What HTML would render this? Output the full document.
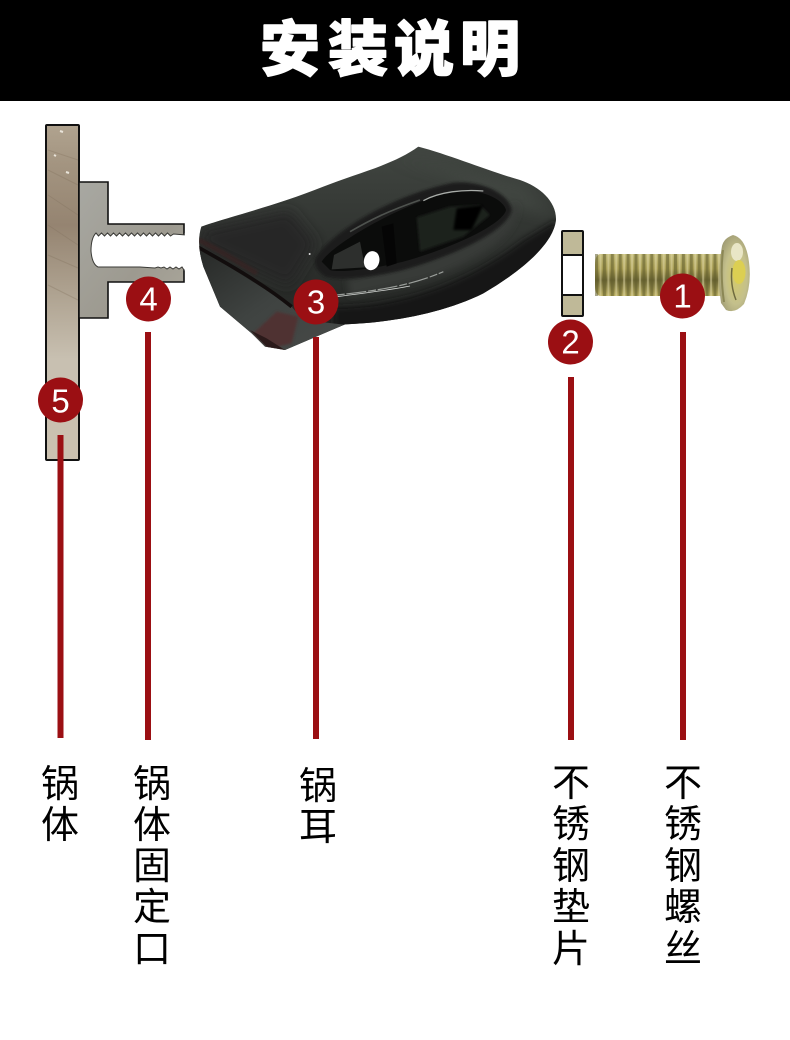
<!DOCTYPE html>
<html lang="zh">
<head>
<meta charset="utf-8">
<title>安装说明</title>
<style>
html,body{margin:0;padding:0;background:#fff;width:790px;height:1040px;overflow:hidden}
svg{display:block}
.t{font-family:"Liberation Sans","WenQuanYi Zen Hei","Noto Sans CJK SC",sans-serif;font-size:38px;fill:#000;text-anchor:middle;dominant-baseline:central}
.title{font-family:"Liberation Sans","Noto Sans CJK SC",sans-serif;font-weight:900;font-size:60px;fill:#fff;text-anchor:middle;dominant-baseline:central;stroke:#fff;stroke-width:1.500px;stroke-linejoin:round}
.n{font-family:"Liberation Sans",sans-serif;font-size:33px;fill:#fff;text-anchor:middle;dominant-baseline:central}
</style>
</head>
<body>
<svg width="790" height="1040" viewBox="0 0 790 1040" xmlns="http://www.w3.org/2000/svg">
<defs>
<linearGradient id="wood" x1="0" y1="0" x2="0" y2="1">
<stop offset="0" stop-color="#b0a38f"/><stop offset=".12" stop-color="#a39480"/><stop offset=".3" stop-color="#958471"/><stop offset=".5" stop-color="#aea290"/><stop offset=".7" stop-color="#c8c0b1"/><stop offset="1" stop-color="#cbc1b0"/>
</linearGradient>
<linearGradient id="steel" x1="0" y1="0" x2="1" y2="1">
<stop offset="0" stop-color="#a8a8a2"/><stop offset=".6" stop-color="#9d9a90"/><stop offset="1" stop-color="#aca89c"/>
</linearGradient>
<linearGradient id="hb" x1="0" y1="0" x2="0" y2="1">
<stop offset="0" stop-color="#434843"/><stop offset=".5" stop-color="#2e312e"/><stop offset="1" stop-color="#202220"/>
</linearGradient>
<linearGradient id="face" x1="0" y1="0" x2="1" y2="1">
<stop offset="0" stop-color="#262826"/><stop offset=".5" stop-color="#3f4341"/><stop offset="1" stop-color="#474a48"/>
</linearGradient>
<linearGradient id="thread" x1="0" y1="0" x2="0" y2="1">
<stop offset="0" stop-color="#c0b978"/><stop offset=".35" stop-color="#a99e55"/><stop offset=".62" stop-color="#6a6433"/><stop offset="1" stop-color="#b9ae62"/>
</linearGradient>
<radialGradient id="head" cx=".55" cy=".55" r=".65">
<stop offset="0" stop-color="#d4ca6a"/><stop offset=".55" stop-color="#c4c08c"/><stop offset="1" stop-color="#9a9670"/>
</radialGradient>
<pattern id="ridge" width="7.9" height="10" patternUnits="userSpaceOnUse" x="595">
<rect width="3" height="10" fill="#5f5a2a" opacity=".55"/>
<rect x="4.500" width="2" height="10" fill="#e3dcaa" opacity=".5"/>
</pattern>
<filter id="b4" x="-20%" y="-20%" width="140%" height="140%"><feGaussianBlur stdDeviation="4"/></filter>
<filter id="b10" x="-30%" y="-30%" width="160%" height="160%"><feGaussianBlur stdDeviation="10"/></filter>
<filter id="b20" x="-30%" y="-30%" width="160%" height="160%"><feGaussianBlur stdDeviation="20"/></filter>
<clipPath id="lug"><path d="M34 290 C100 265 250 230 400 170 C500 130 610 105 685 50 C780 75 900 125 990 150 C1050 170 1100 215 1098 270 C1090 340 1000 420 880 490 C760 550 600 578 465 583 L285 660 L225 650 L185 610 L90 530 L40 410 Q18 340 34 290 Z"/></clipPath>
</defs>

<rect x="0" y="0" width="790" height="101" fill="#000"/>
<text class="title" x="290" y="50">安</text>
<text class="title" x="358" y="50">装</text>
<text class="title" x="424" y="50">说</text>
<text class="title" x="490" y="50">明</text>

<!-- pot wall -->
<rect x="46" y="125" width="33" height="335" rx="1" fill="url(#wood)" stroke="#111" stroke-width="2"/>
<g stroke="#7d6d59" stroke-width="1" opacity=".3" fill="none">
<path d="M48 170 L78 185M48 195 L78 215M48 225 L78 245M48 255 L78 268M48 285 L78 300M48 150 L78 160"/>
</g>
<path d="M60 131 l3 1 M54 155 l2 1 M66 172 l3 1" stroke="#e9e4da" stroke-width="2"/>

<!-- bracket -->
<path d="M79 182 H108 V224 H184 V282 H108 V318 H79 Z" fill="url(#steel)" stroke="#111" stroke-width="1.600" stroke-linejoin="miter"/>
<path d="M96 233 l2.500 3 3-3 3 3 3-3 3 3 3-3 3 3 3-3 3 3 3-3 3 3 3-3 3 3 3-3 3 3 3-3 3 3 3-3 3 3 3-3 3 3 3-3 3 3 3-3 3 3 3-2 L186 235 V270 H184 L182 267 l-3 2-3-2-3 2-3-2-3 2-3-2-3 1 -3-1 -3 1 L140 267 H98 Q92 264 91 251 Q91 238 96 233 Z" fill="#fff" stroke="#3a3a36" stroke-width="1"/>
<rect x="184.800" y="233" width="3" height="38" fill="#fff"/>

<!-- lug -->
<g transform="translate(190,130) scale(.33333)">
<g clip-path="url(#lug)">
<rect x="0" y="30" width="1120" height="650" fill="url(#hb)"/>
<path d="M600 80 L1000 160 L1100 260 L960 230 L760 130 Z" fill="#4a4f4a" opacity=".5" filter="url(#b20)"/>
<path d="M30 300 L300 240 L380 340 L300 470 L40 350 Z" fill="#252725" filter="url(#b20)"/>
<path d="M980 220 C1000 300 880 390 700 450 L480 500 L470 450 L700 380 L900 280 Z" fill="#373b37" filter="url(#b10)"/>
<path d="M430 530 C600 530 800 480 1000 330 L1100 270 L1090 420 L800 600 L430 600 Z" fill="#121312" filter="url(#b10)"/>
<!-- front face -->
<path d="M20 350 L300 525 L340 570 L470 585 L285 665 L225 655 L185 615 L90 535 L35 415 Z" fill="url(#face)"/>
<path d="M190 610 L260 545 L325 560 L305 640 L240 655 Z" fill="#4f3233" filter="url(#b4)"/>
<path d="M25 352 C120 405 220 462 305 530" stroke="#120d0d" stroke-width="11" fill="none"/>
<path d="M25 330 C90 360 150 400 200 430" stroke="#3b2020" stroke-width="14" fill="none" opacity=".7" filter="url(#b4)"/>
<path d="M180 600 L230 650 L285 660 L230 625 Z" fill="#2b1a1a"/>
<path d="M440 495 C560 482 660 468 760 425" stroke="#9a9e9a" stroke-width="3.500" fill="none" stroke-dasharray="24 5 60 6"/>
<path d="M440 500 C520 490 600 480 660 468" stroke="#d5d8d5" stroke-width="2.500" fill="none"/>
</g>
<!-- opening -->
<path d="M375 385 C430 300 610 195 790 158 C880 150 960 195 965 240 C955 300 800 375 640 420 C560 440 450 455 405 440 Q368 415 375 385 Z" fill="#1d1f1d" filter="url(#b4)"/>
<path d="M395 395 C430 340 620 230 780 185 C860 170 940 205 948 240 C940 280 800 350 640 395 C560 415 450 430 420 420 Z" fill="#0b0c0b"/>
<path d="M425 418 L432 375 L510 335 L525 412 Z" fill="#2d2f2d"/>
<path d="M575 290 L610 280 L620 400 L590 410 Z" fill="#050505"/>
<path d="M680 262 L780 230 L870 225 L900 255 L820 320 L690 365 Z" fill="#1f211f" filter="url(#b4)"/>
<path d="M800 235 L880 225 L845 300 L790 300 Z" fill="#060606" filter="url(#b4)"/>
<ellipse cx="545" cy="392" rx="23" ry="29" transform="rotate(15 545 392)" fill="#fff"/>
<path d="M700 212 C750 185 820 178 880 183" stroke="#a8aca8" stroke-width="4" fill="none"/>
<path d="M480 305 C540 270 590 245 690 210" stroke="#5b605b" stroke-width="5" fill="none" opacity=".8"/>
<circle cx="359" cy="372" r="3" fill="#ddd"/>
</g>

<!-- washer -->
<rect x="562" y="231" width="21" height="85" rx="1" fill="#fff" stroke="#111" stroke-width="2"/>
<rect x="563" y="232" width="19" height="23" fill="#bfb998"/>
<rect x="563" y="295" width="19" height="20" fill="#bfb998"/>
<path d="M562 255 H583 M562 295 H583" stroke="#111" stroke-width="2"/>

<!-- screw -->
<path d="M600 254 H724 V296 H600 Q595 295 595 285 V265 Q595 255 600 254 Z" fill="url(#thread)"/>
<rect x="595" y="254" width="127" height="42" fill="url(#ridge)"/>
<path d="M722 246 Q724 238 733 235 Q746 238 749 262 Q752 285 744 304 Q735 314 726 310 L721 303 Q717 275 722 246 Z" fill="url(#head)"/>
<ellipse cx="737" cy="252" rx="6" ry="9" fill="#e9e6c6"/>
<ellipse cx="739" cy="272" rx="6.500" ry="12" fill="#dccf52"/>
<path d="M723 250 Q720 275 724 302" stroke="#8b8755" stroke-width="2" fill="none"/>
<path d="M732 268 Q730 285 736 300" stroke="#6f6b3f" stroke-width="1.500" fill="none"/>

<!-- leader lines -->
<g fill="#9b0f13">
<rect x="57.500" y="435" width="6" height="303"/>
<rect x="145" y="332" width="6" height="408"/>
<rect x="313" y="337" width="6" height="402"/>
<rect x="568" y="377" width="6" height="363"/>
<rect x="680" y="332" width="6" height="408"/>
<circle cx="60.500" cy="400" r="22.500"/>
<circle cx="148.500" cy="299" r="22.500"/>
<circle cx="316" cy="302" r="22.500"/>
<circle cx="570.500" cy="342" r="22.500"/>
<circle cx="682.500" cy="296" r="22.500"/>
</g>
<text class="n" x="60.500" y="401">5</text>
<text class="n" x="148.500" y="299">4</text>
<text class="n" x="316" y="302">3</text>
<text class="n" x="570.500" y="342">2</text>
<text class="n" x="682.500" y="296">1</text>

<!-- labels -->
<text class="t" x="60" y="785">锅</text><text class="t" x="60" y="826">体</text>

<text class="t" x="152" y="785">锅</text><text class="t" x="152" y="826">体</text><text class="t" x="152" y="867">固</text><text class="t" x="152" y="908">定</text><text class="t" x="152" y="950">口</text>

<text class="t" x="318" y="787">锅</text><text class="t" x="318" y="828">耳</text>

<text class="t" x="571" y="784">不</text><text class="t" x="571" y="825">锈</text><text class="t" x="571" y="867">钢</text><text class="t" x="571" y="908">垫</text><text class="t" x="571" y="950">片</text>

<text class="t" x="683" y="784">不</text><text class="t" x="683" y="825">锈</text><text class="t" x="683" y="867">钢</text><text class="t" x="683" y="908">螺</text><text class="t" x="683" y="950">丝</text>
</svg>
</body>
</html>
